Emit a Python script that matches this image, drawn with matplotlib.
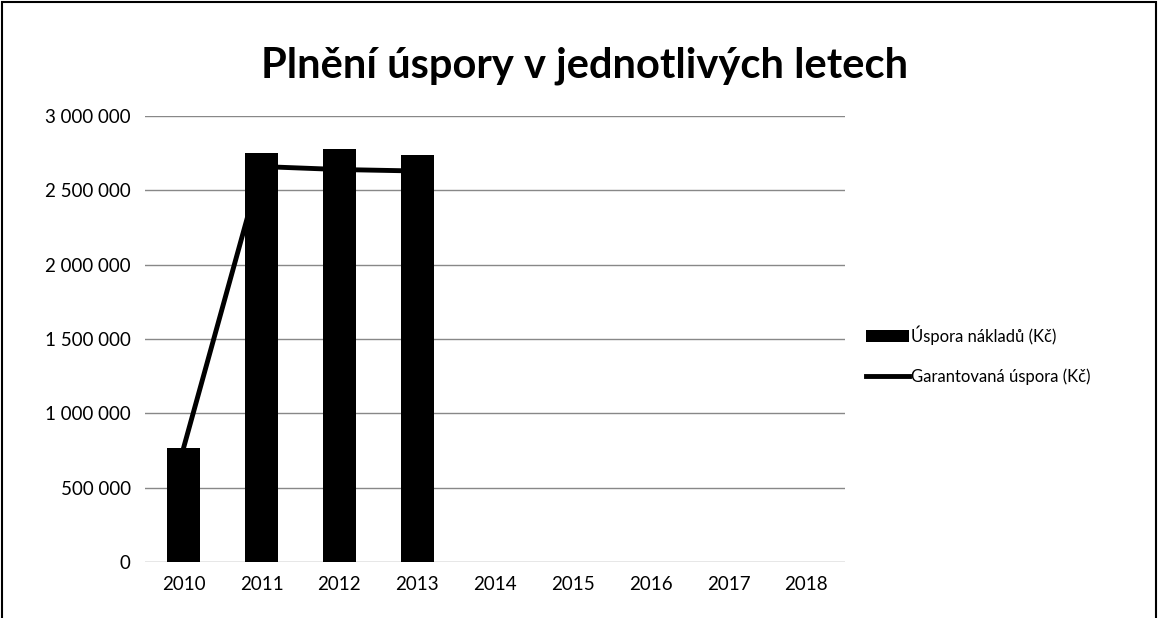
import matplotlib.pyplot as plt
from matplotlib.patches import Rectangle
from matplotlib.ticker import FuncFormatter

# data
years = ["2010", "2011", "2012", "2013", "2014", "2015", "2016", "2017", "2018"]
uspora = [770000, 2750000, 2780000, 2740000]          # Úspora nákladů (Kč)
garantovana = [770000, 2660000, 2640000, 2630000]     # Garantovaná úspora (Kč)
y_ticks = [0, 500000, 1000000, 1500000, 2000000, 2500000, 3000000]

plt.rcParams['font.family'] = ['Lato', 'DejaVu Sans']

fig = plt.figure(figsize=(11.58, 6.18), dpi=100)
ax = fig.add_axes([0.125, 0.0906, 0.605, 0.7217])

x = list(range(len(years)))
ax.plot(x[:len(garantovana)], garantovana, color='black', lw=3.5, zorder=2,
        label="Garantovaná úspora (Kč)")
ax.bar(x[:len(uspora)], uspora, width=0.42, color='black', zorder=3,
       label="Úspora nákladů (Kč)")

ax.set_xlim(-0.5, len(years) - 0.5)
ax.set_ylim(0, 3000000)
ax.set_xticks(x)
ax.set_xticklabels(years)
ax.set_yticks(y_ticks)
ax.yaxis.set_major_formatter(FuncFormatter(lambda v, p: f"{int(v):,}".replace(",", " ")))
ax.tick_params(length=0, labelsize=13.5, pad=10)
ax.grid(axis='y', color='#888888', lw=1, zorder=0)
for s in ax.spines.values():
    s.set_visible(False)

fig.suptitle("Plnění úspory v jednotlivých letech", x=0.505, y=0.925,
             fontsize=30, fontweight='bold')

h, l = ax.get_legend_handles_labels()
fig.legend(h[::-1], l[::-1], loc='center left', bbox_to_anchor=(0.735, 0.425),
           frameon=False, fontsize=12, handlelength=2.6, handletextpad=0.1,
           labelspacing=1.4)

fig.patches.append(Rectangle((0.002, -0.01), 0.996, 1.007, transform=fig.transFigure,
                             fill=False, edgecolor='black', lw=1.5))

fig.savefig("out.png", dpi=100)
